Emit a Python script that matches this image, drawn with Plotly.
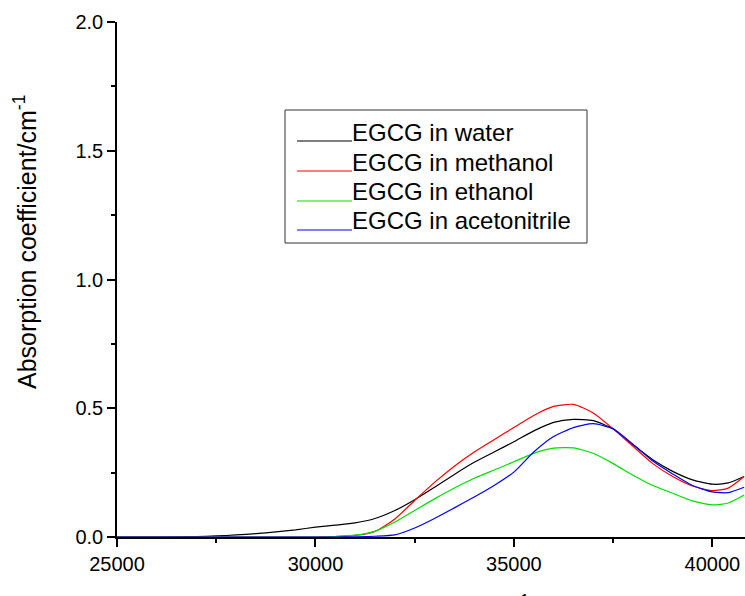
import plotly.graph_objects as go

wavenumber = [25000, 26000, 27000, 27500, 28000, 28500, 29000, 29500, 30000, 30500,
              31000, 31500, 32000, 32500, 33000, 33500, 34000, 34500, 35000, 35500,
              36000, 36500, 37000, 37500, 38000, 38500, 39000, 39500, 40000, 40400, 40800]

water = [0, 0, 0.002, 0.004, 0.008, 0.013, 0.020, 0.028, 0.038, 0.046,
         0.055, 0.072, 0.103, 0.145, 0.193, 0.243, 0.290, 0.330, 0.370, 0.412,
         0.445, 0.457, 0.452, 0.420, 0.358, 0.300, 0.255, 0.222, 0.205, 0.210, 0.235]

methanol = [0, 0, 0, 0, 0, 0, 0, 0, 0, 0.002,
            0.006, 0.022, 0.070, 0.142, 0.212, 0.275, 0.330, 0.378, 0.425, 0.472,
            0.507, 0.515, 0.482, 0.420, 0.352, 0.285, 0.235, 0.198, 0.180, 0.190, 0.235]

ethanol = [0, 0, 0, 0, 0, 0, 0, 0, 0, 0.002,
           0.007, 0.022, 0.058, 0.103, 0.148, 0.190, 0.228, 0.260, 0.292, 0.325,
           0.345, 0.346, 0.325, 0.285, 0.240, 0.200, 0.170, 0.140, 0.125, 0.132, 0.163]

acetonitrile = [0, 0, 0, 0, 0, 0, 0, 0, 0, 0,
                0.001, 0.003, 0.008, 0.035, 0.072, 0.113, 0.155, 0.200, 0.252, 0.330,
                0.390, 0.425, 0.440, 0.420, 0.360, 0.295, 0.245, 0.200, 0.175, 0.172, 0.193]

names = ["EGCG in water", "EGCG in methanol", "EGCG in ethanol", "EGCG in acetonitrile"]
series = [water, methanol, ethanol, acetonitrile]
colors = ["#000000", "#ff0000", "#00e000", "#0000ff"]

FONT = "Liberation Sans, Arial, sans-serif"

# pixel helpers for layout (plot area: x 117..745, y 22..537)
L, R, T, B = 117, 745, 22, 537
W, H = R - L, B - T
def px(x):
    return (x - L) / W
def py(y):
    return (B - y) / H

fig = go.Figure()
for n, s, c in zip(names, series, colors):
    fig.add_trace(go.Scatter(x=wavenumber, y=s, mode="lines", name=n,
                             line=dict(color=c, width=1.2, shape="spline", smoothing=0.6),
                             showlegend=False))

shapes = []
annotations = []
# legend box
shapes.append(dict(type="rect", xref="paper", yref="paper",
                   x0=px(285), x1=px(587), y0=py(243), y1=py(110),
                   line=dict(color="#333333", width=1), fillcolor="rgba(0,0,0,0)"))
baselines = [140, 170, 200, 229]
for n, c, b in zip(names, colors, baselines):
    shapes.append(dict(type="line", xref="paper", yref="paper",
                       x0=px(297), x1=px(352), y0=py(b + 1), y1=py(b + 1),
                       line=dict(color=c, width=1.2)))
    annotations.append(dict(text=n, xref="paper", yref="paper", x=px(350), y=py(b - 8),
                            xanchor="left", yanchor="middle", showarrow=False,
                            font=dict(family=FONT, size=24, color="black")))

# axis titles
annotations.append(dict(text="Absorption coefficient/cm<sup>-1</sup>", xref="paper", yref="paper",
                        x=px(25), y=py(242), textangle=-90, xanchor="center", yanchor="middle",
                        showarrow=False, font=dict(family=FONT, size=25, color="black")))
annotations.append(dict(text="Wavenumber/cm<sup>-1</sup>", xref="paper", yref="paper",
                        x=px(431), y=py(606), xanchor="center", yanchor="middle",
                        showarrow=False, font=dict(family=FONT, size=24, color="black")))

fig.update_layout(
    width=745, height=596,
    margin=dict(l=L, r=745 - R, t=T, b=596 - B),
    paper_bgcolor="white", plot_bgcolor="white",
    font=dict(family=FONT, size=20, color="black"),
    shapes=shapes, annotations=annotations,
    xaxis=dict(range=[25000, 25000 + W / 0.03969], tick0=25000, dtick=5000, tickformat="d",
               showgrid=False, zeroline=False, showline=True, linecolor="black", linewidth=1.5,
               ticks="outside", ticklen=8, tickwidth=1.5, tickcolor="black",
               tickfont=dict(family=FONT, size=20),
               minor=dict(dtick=2500, tick0=25000, ticks="outside", ticklen=4, tickwidth=1.5,
                          tickcolor="black", showgrid=False)),
    yaxis=dict(range=[0, 2.0], tick0=0, dtick=0.5, tickformat=".1f",
               showgrid=False, zeroline=False, showline=True, linecolor="black", linewidth=1.5,
               ticks="outside", ticklen=8, tickwidth=1.5, tickcolor="black",
               tickfont=dict(family=FONT, size=20),
               minor=dict(dtick=0.25, tick0=0, ticks="outside", ticklen=4, tickwidth=1.5,
                          tickcolor="black", showgrid=False)),
)

fig.write_html("out.html")
